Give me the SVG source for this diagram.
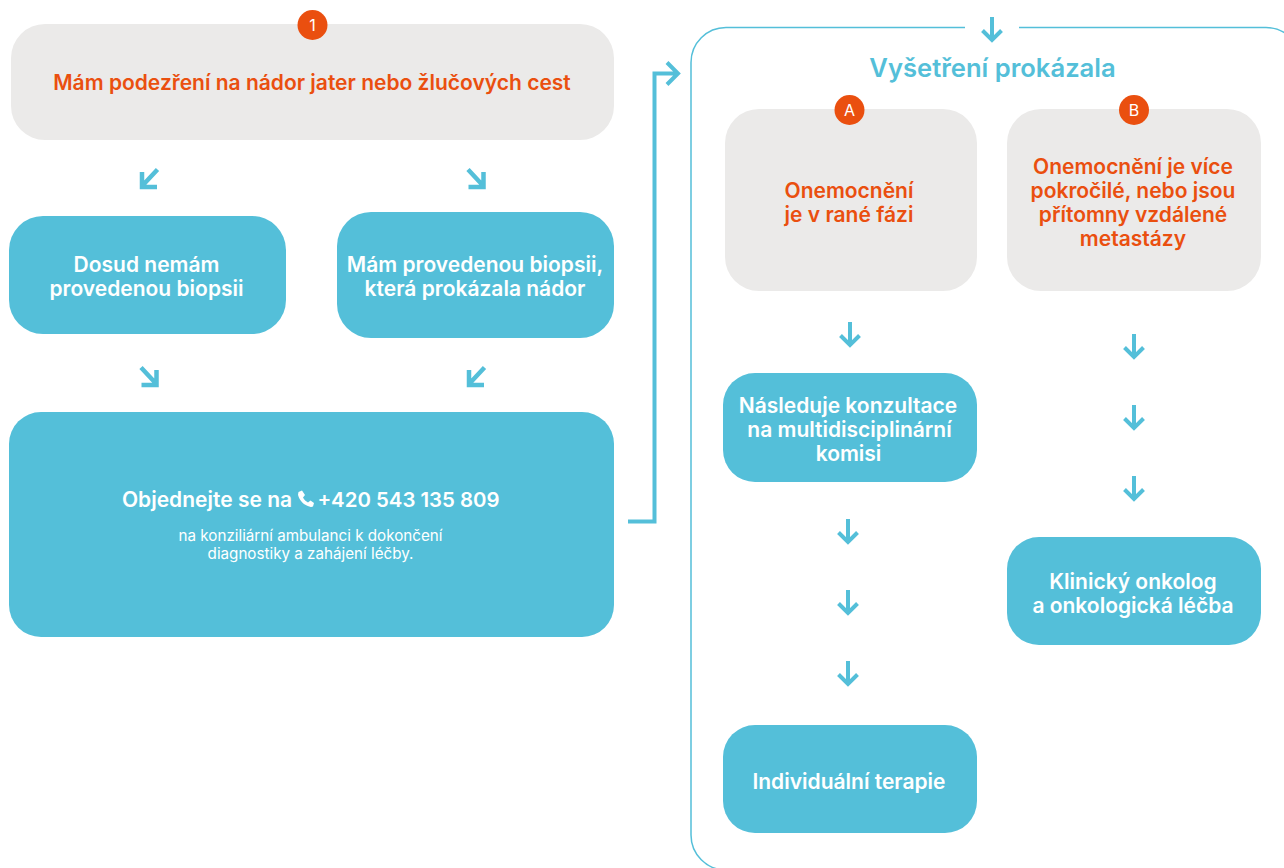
<svg xmlns="http://www.w3.org/2000/svg" width="1284" height="868" viewBox="0 0 1284 868">
<style>
text{font-family:Inter,"Liberation Sans",sans-serif;text-anchor:middle}
.g{fill:#ebeae9}.b{fill:#54bfd9}
.o{fill:#ea4f0f}
.to{fill:#ea4f0f;font-size:21px;font-weight:600}
.tw{fill:#fff;font-size:21px;font-weight:600}
.ts{fill:#fff;font-size:15.200px;font-weight:400}
.bt{fill:#fff;font-size:16px;font-weight:400}
.a{fill:none;stroke:#54bfd9;stroke-width:4}
.d{fill:none;stroke:#54bfd9;stroke-width:4.500}
</style>
<defs>
<g id="down"><path class="a" d="M0 0V24M-9.500 13.500L0 23L9.500 13.500"/></g>
<g id="dl"><path class="d" d="M8.500 -8.500L-6 7M-7 -6V9H8"/></g>
<g id="dr"><path class="d" d="M-8.500 -8.500L6 7M7 -6V9H-8"/></g>
</defs>
<g id="connectors">
<path fill="none" stroke="#54bfd9" stroke-width="1.500" d="M965 27.500H726A35 35 0 0 0 691 62.500V835A35 35 0 0 0 726 870H1301V62.500A35 35 0 0 0 1266 27.500H1019"/>
<path class="a" d="M628 521.500H654.500V73.500H678M667 62.500L678 73.500L667 84.500"/>
<use href="#dl" x="149" y="178"/>
<use href="#dr" x="476.500" y="178"/>
<use href="#dr" x="149.500" y="376"/>
<use href="#dl" x="476" y="376"/>
<use href="#down" x="992" y="17"/>
<use href="#down" x="850" y="322"/>
<use href="#down" x="848" y="519"/>
<use href="#down" x="848" y="590"/>
<use href="#down" x="848" y="661"/>
<use href="#down" x="1134" y="334"/>
<use href="#down" x="1134" y="405"/>
<use href="#down" x="1134" y="476"/>
</g>
<g id="n1"><rect class="g" x="11" y="24" width="603" height="116" rx="34"/><circle class="o" cx="312.500" cy="25" r="15"/><text class="bt" x="312.500" y="31">1</text><text class="to" x="312" y="90">Mám podezření na nádor jater nebo žlučových cest</text></g>
<g id="n2"><rect class="b" x="9" y="216" width="277" height="118" rx="34"/><text class="tw" x="146.500" y="272">Dosud nemám</text><text class="tw" x="146.500" y="296">provedenou biopsii</text></g>
<g id="n3"><rect class="b" x="337" y="212" width="277" height="126" rx="34"/><text class="tw" x="475" y="272">Mám provedenou biopsii,</text><text class="tw" x="475" y="296">která prokázala nádor</text></g>
<g id="n4"><rect class="b" x="9" y="412" width="605" height="225" rx="32"/><text class="tw" x="207" y="507">Objednejte se na</text><path fill="#fff" d="M298.500 492l3.500-1.500 3 4.500-2 2.500c1 2 3 4 5 5l2.500-2 3.500 2.500-1 3.500c-1 .5-2 .5-3 .2c-6-1.500-10.500-6-12-12z"/><text class="tw" x="408.500" y="507" style="font-size:20.400px">+420 543 135 809</text><text class="ts" x="310.500" y="541">na konziliární ambulanci k dokončení</text><text class="ts" x="310.500" y="559">diagnostiky a zahájení léčby.</text></g>
<g id="title"><text x="992.500" y="77" style="fill:#54bfd9;font-size:25.600px;font-weight:600">Vyšetření prokázala</text></g>
<g id="nA"><rect class="g" x="725" y="109" width="252" height="182" rx="34"/><circle class="o" cx="849.500" cy="110" r="15"/><text class="bt" x="849.500" y="116">A</text><text class="to" x="849" y="198">Onemocnění</text><text class="to" x="849" y="222">je v rané fázi</text></g>
<g id="nB"><rect class="g" x="1007" y="109" width="254" height="182" rx="34"/><circle class="o" cx="1134" cy="110" r="15"/><text class="bt" x="1134" y="116">B</text><text class="to" x="1133" y="174">Onemocnění je více</text><text class="to" x="1133" y="198">pokročilé, nebo jsou</text><text class="to" x="1133" y="222">přítomny vzdálené</text><text class="to" x="1133" y="246">metastázy</text></g>
<g id="nC"><rect class="b" x="723" y="373" width="254" height="109" rx="32"/><text class="tw" x="848" y="413">Následuje konzultace</text><text class="tw" x="849.500" y="437">na multidisciplinární</text><text class="tw" x="848.500" y="461">komisi</text></g>
<g id="nD"><rect class="b" x="723" y="725" width="254" height="108" rx="32"/><text class="tw" x="849" y="789">Individuální terapie</text></g>
<g id="nE"><rect class="b" x="1007" y="537" width="254" height="108" rx="32"/><text class="tw" x="1133" y="589">Klinický onkolog</text><text class="tw" x="1133" y="613">a onkologická léčba</text></g>
</svg>
